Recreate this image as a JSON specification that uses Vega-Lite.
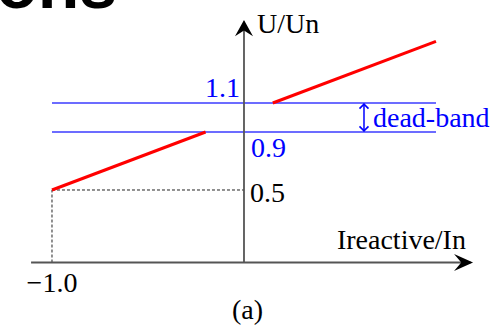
{
  "$schema": "https://vega.github.io/schema/vega-lite/v6.json",
  "width": 503,
  "height": 327,
  "autosize": {"type": "fit", "contains": "padding"},
  "padding": 0,
  "background": "white",
  "view": {"stroke": null},
  "config": {"text": {"font": "Liberation Serif", "fontSize": 28, "baseline": "alphabetic"}},
  "datasets": {
    "guides": [
      {"x": -1.0, "y": 0.5, "x2": 0.0, "y2": 0.5},
      {"x": -1.0, "y": 0.0, "x2": -1.0, "y2": 0.5}
    ],
    "band": [
      {"x": -1.0, "y": 1.1, "x2": 1.0, "y2": 1.1},
      {"x": -1.0, "y": 0.9, "x2": 1.0, "y2": 0.9}
    ],
    "axes": [
      {"x": -1.109, "y": 0.0, "x2": 1.18, "y2": 0.0},
      {"x": 0.0, "y": 0.0, "x2": 0.0, "y2": 1.66}
    ],
    "characteristic": [
      {"x": -1.0, "y": 0.5, "x2": -0.2, "y2": 0.9},
      {"x": 0.15, "y": 1.1, "x2": 1.0, "y2": 1.525}
    ],
    "deadbandStem": [
      {"x": 0.625, "y": 0.905, "x2": 0.625, "y2": 1.095}
    ],
    "deadbandHeads": [
      {"x": 0.625, "y": 1.092, "dir": "up"},
      {"x": 0.625, "y": 0.908, "dir": "down"}
    ],
    "xArrow": [{"x": 1.193, "y": 0.0}],
    "yArrow": [{"x": 0.0, "y": 1.672}],
    "blueLeft": [
      {"x": 0.036, "y": 0.728, "label": "0.9"},
      {"x": 0.672, "y": 0.934, "label": "dead-band"}
    ],
    "blueRight": [
      {"x": -0.021, "y": 1.141, "label": "1.1"}
    ],
    "blackLeft": [
      {"x": 0.031, "y": 0.417, "label": "0.5"},
      {"x": 0.484, "y": 0.093, "label": "Ireactive/In"},
      {"x": 0.068, "y": 1.583, "label": "U/Un"}
    ],
    "blackCenter": [
      {"x": -1.0, "y": -0.2034, "label": "−1.0"},
      {"x": 0.018, "y": -0.3897, "label": "(a)"}
    ],
    "heading": [
      {"x": -0.661, "y": 1.755, "label": "ons"}
    ]
  },
  "layer": [
    {
      "data": {"name": "guides"},
      "mark": {"type": "rule", "color": "#222222", "strokeWidth": 1, "strokeDash": [3, 2]},
      "encoding": {
        "x": {"field": "x", "type": "quantitative", "scale": {"domain": [-1.2708, 1.349], "nice": false, "zero": false}, "axis": null},
        "y": {"field": "y", "type": "quantitative", "scale": {"domain": [-0.4448, 1.8103], "nice": false, "zero": false}, "axis": null},
        "x2": {"field": "x2"},
        "y2": {"field": "y2"}
      }
    },
    {
      "data": {"name": "band"},
      "mark": {"type": "rule", "color": "#3b3bff", "strokeWidth": 1.5},
      "encoding": {
        "x": {"field": "x", "type": "quantitative"},
        "y": {"field": "y", "type": "quantitative"},
        "x2": {"field": "x2"},
        "y2": {"field": "y2"}
      }
    },
    {
      "data": {"name": "axes"},
      "mark": {"type": "rule", "color": "#555555", "strokeWidth": 1.8},
      "encoding": {
        "x": {"field": "x", "type": "quantitative"},
        "y": {"field": "y", "type": "quantitative"},
        "x2": {"field": "x2"},
        "y2": {"field": "y2"}
      }
    },
    {
      "data": {"name": "characteristic"},
      "mark": {"type": "rule", "color": "#ff0000", "strokeWidth": 3},
      "encoding": {
        "x": {"field": "x", "type": "quantitative"},
        "y": {"field": "y", "type": "quantitative"},
        "x2": {"field": "x2"},
        "y2": {"field": "y2"}
      }
    },
    {
      "data": {"name": "deadbandStem"},
      "mark": {"type": "rule", "color": "#0000ff", "strokeWidth": 1.5},
      "encoding": {
        "x": {"field": "x", "type": "quantitative"},
        "y": {"field": "y", "type": "quantitative"},
        "x2": {"field": "x2"},
        "y2": {"field": "y2"}
      }
    },
    {
      "data": {"name": "deadbandHeads"},
      "mark": {"type": "point", "filled": false, "stroke": "#0000ff", "strokeWidth": 1.6, "size": 81, "opacity": 1},
      "encoding": {
        "x": {"field": "x", "type": "quantitative"},
        "y": {"field": "y", "type": "quantitative"},
        "shape": {
          "field": "dir",
          "type": "nominal",
          "scale": {"domain": ["up", "down"], "range": ["M -1 1 L 0 0 L 1 1", "M -1 -1 L 0 0 L 1 -1"]},
          "legend": null
        }
      }
    },
    {
      "data": {"name": "xArrow"},
      "mark": {"type": "point", "shape": "M 0 0 L -1 -0.45 L -0.62 0 L -1 0.45 Z", "filled": true, "color": "#000000", "size": 1444, "opacity": 1},
      "encoding": {
        "x": {"field": "x", "type": "quantitative"},
        "y": {"field": "y", "type": "quantitative"}
      }
    },
    {
      "data": {"name": "yArrow"},
      "mark": {"type": "point", "shape": "M 0 0 L -0.5 0.9 L 0 0.58 L 0.5 0.9 Z", "filled": true, "color": "#000000", "size": 1296, "opacity": 1},
      "encoding": {
        "x": {"field": "x", "type": "quantitative"},
        "y": {"field": "y", "type": "quantitative"}
      }
    },
    {
      "data": {"name": "blueLeft"},
      "mark": {"type": "text", "align": "left", "color": "#0000ff"},
      "encoding": {
        "x": {"field": "x", "type": "quantitative"},
        "y": {"field": "y", "type": "quantitative"},
        "text": {"field": "label"}
      }
    },
    {
      "data": {"name": "blueRight"},
      "mark": {"type": "text", "align": "right", "color": "#0000ff"},
      "encoding": {
        "x": {"field": "x", "type": "quantitative"},
        "y": {"field": "y", "type": "quantitative"},
        "text": {"field": "label"}
      }
    },
    {
      "data": {"name": "blackLeft"},
      "mark": {"type": "text", "align": "left", "color": "#000000"},
      "encoding": {
        "x": {"field": "x", "type": "quantitative"},
        "y": {"field": "y", "type": "quantitative"},
        "text": {"field": "label"}
      }
    },
    {
      "data": {"name": "blackCenter"},
      "mark": {"type": "text", "align": "center", "color": "#000000"},
      "encoding": {
        "x": {"field": "x", "type": "quantitative"},
        "y": {"field": "y", "type": "quantitative"},
        "text": {"field": "label"}
      }
    },
    {
      "data": {"name": "heading"},
      "mark": {"type": "text", "align": "right", "color": "#000000", "font": "Liberation Sans", "fontWeight": "bold", "fontSize": 68, "clip": true},
      "encoding": {
        "x": {"field": "x", "type": "quantitative"},
        "y": {"field": "y", "type": "quantitative"},
        "text": {"field": "label"}
      }
    }
  ]
}
